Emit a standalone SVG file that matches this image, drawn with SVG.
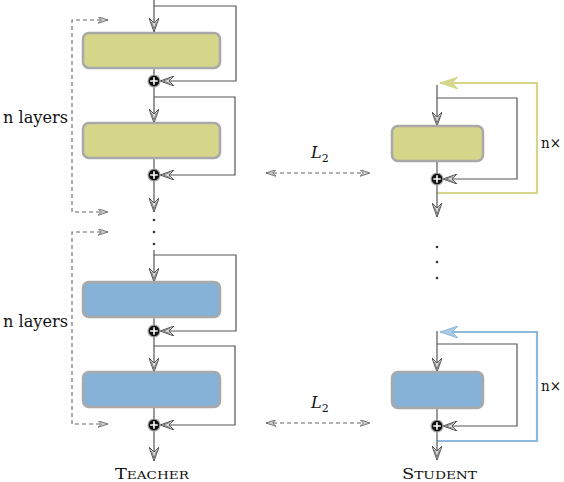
<svg xmlns="http://www.w3.org/2000/svg" width="564" height="482" viewBox="0 0 564 482">
<style>
.ln{fill:none;stroke:#555;stroke-width:1.2}
.dash{fill:none;stroke:#666;stroke-width:1.1;stroke-dasharray:4 3}
.by{fill:#d6d68a;stroke:#a9a9a9;stroke-width:2.5}
.bb{fill:#85b2d6;stroke:#a9a9a9;stroke-width:2.5}
text{font-family:'DejaVu Serif','Liberation Serif',serif;fill:#111}
.dot{fill:#333}
</style>
<defs>
<marker id="arr" viewBox="0 0 14 10" refX="14" refY="5" markerWidth="14" markerHeight="10" markerUnits="userSpaceOnUse" orient="auto-start-reverse">
<path d="M0,0 L14,5 L0,10 L5,5 Z" fill="#ddd" stroke="#555" stroke-width="1"/>
<path d="M4,2.5 L11,5 L4,7.5" fill="none" stroke="#666" stroke-width="0.8"/>
</marker>
<marker id="arrd" viewBox="0 0 12 8" refX="12" refY="4" markerWidth="10" markerHeight="7" markerUnits="userSpaceOnUse" orient="auto-start-reverse">
<path d="M0,0 L12,4 L0,8 L4,4 Z" fill="#ccc" stroke="#666" stroke-width="1"/>
</marker>
<marker id="arry" viewBox="0 0 18 12" refX="18" refY="6" markerWidth="18" markerHeight="12" markerUnits="userSpaceOnUse" orient="auto">
<path d="M0,0 L18,6 L0,12 L6,6 Z" fill="#d6d68a" stroke="#d6d68a" stroke-width="1"/>
</marker>
<marker id="arrb" viewBox="0 0 18 12" refX="18" refY="6" markerWidth="18" markerHeight="12" markerUnits="userSpaceOnUse" orient="auto">
<path d="M0,0 L18,6 L0,12 L6,6 Z" fill="#a9c9e4" stroke="#8fb9dc" stroke-width="1"/>
</marker>
<g id="plus">
<circle r="6" fill="#111" stroke="#aaa" stroke-width="1.2"/>
<path d="M-3.8,0 H3.8 M0,-3.8 V3.8" stroke="#fff" stroke-width="1.6"/>
</g>
</defs>

<g id="connectors">
<path class="ln" d="M154,0 V32" marker-end="url(#arr)"/>
<path class="ln" d="M154,6 H236 V81 H160" marker-end="url(#arr)"/>
<path class="ln" d="M154,68 V75"/>
<path class="ln" d="M154,87 V123" marker-end="url(#arr)"/>
<path class="ln" d="M154,97 H235 V175 H160" marker-end="url(#arr)"/>
<path class="ln" d="M154,158 V169"/>
<path class="ln" d="M154,181 V212" marker-end="url(#arr)"/>
<path class="ln" d="M154,250 V282" marker-end="url(#arr)"/>
<path class="ln" d="M154,255 H236 V331 H160" marker-end="url(#arr)"/>
<path class="ln" d="M154,317 V325"/>
<path class="ln" d="M154,337 V372" marker-end="url(#arr)"/>
<path class="ln" d="M154,346 H235 V425 H160" marker-end="url(#arr)"/>
<path class="ln" d="M154,407 V419"/>
<path class="ln" d="M154,431 V461" marker-end="url(#arr)"/>
<path class="dash" d="M108,20 H72 V212 H108" marker-start="url(#arrd)" marker-end="url(#arrd)"/>
<path class="dash" d="M108,232 H72 V424 H108" marker-start="url(#arrd)" marker-end="url(#arrd)"/>
<path class="dash" d="M266,173 H370" marker-start="url(#arrd)" marker-end="url(#arrd)"/>
<path class="dash" d="M266,423 H370" marker-start="url(#arrd)" marker-end="url(#arrd)"/>
<path fill="none" stroke="#d6d68a" stroke-width="2.2" d="M437,193 H537 V83 H440" marker-end="url(#arry)"/>
<path class="ln" d="M437,85 V126" marker-end="url(#arr)"/>
<path class="ln" d="M437,98 H517 V179 H443" marker-end="url(#arr)"/>
<path class="ln" d="M437,161 V173"/>
<path class="ln" d="M437,185 V217" marker-end="url(#arr)"/>
<path fill="none" stroke="#8fb9dc" stroke-width="2.2" d="M437,441 H537 V332 H440" marker-end="url(#arrb)"/>
<path class="ln" d="M437,331 V372" marker-end="url(#arr)"/>
<path class="ln" d="M437,344 H517 V426 H443" marker-end="url(#arr)"/>
<path class="ln" d="M437,408 V420"/>
<path class="ln" d="M437,432 V460" marker-end="url(#arr)"/>
</g>

<g id="teacher-layer1"><rect class="by" x="83" y="33" width="137" height="35" rx="6"/></g>
<g id="teacher-add1"><use href="#plus" x="154" y="81"/></g>
<g id="teacher-layer2"><rect class="by" x="83" y="123" width="137" height="35" rx="6"/></g>
<g id="teacher-add2"><use href="#plus" x="154" y="175"/></g>
<g id="teacher-dots"><circle class="dot" cx="154" cy="220" r="1.3"/><circle class="dot" cx="154" cy="232" r="1.3"/><circle class="dot" cx="154" cy="244" r="1.3"/></g>
<g id="teacher-layer3"><rect class="bb" x="83" y="282" width="137" height="35" rx="6"/></g>
<g id="teacher-add3"><use href="#plus" x="154" y="331"/></g>
<g id="teacher-layer4"><rect class="bb" x="83" y="372" width="137" height="35" rx="6"/></g>
<g id="teacher-add4"><use href="#plus" x="154" y="425"/></g>

<g id="student-layer1"><rect class="by" x="392" y="126" width="91" height="35" rx="6"/></g>
<g id="student-add1"><use href="#plus" x="437" y="179"/></g>
<g id="student-dots"><circle class="dot" cx="437" cy="247" r="1.3"/><circle class="dot" cx="437" cy="262" r="1.3"/><circle class="dot" cx="437" cy="278" r="1.3"/></g>
<g id="student-layer2"><rect class="bb" x="392" y="372" width="91" height="36" rx="6"/></g>
<g id="student-add2"><use href="#plus" x="437" y="426"/></g>

<g id="labels">
<text x="3" y="123" font-size="17" textLength="65" lengthAdjust="spacingAndGlyphs">n layers</text>
<text x="3" y="327" font-size="17" textLength="65" lengthAdjust="spacingAndGlyphs">n layers</text>
<text x="541" y="148" font-size="15" textLength="20" lengthAdjust="spacingAndGlyphs">n×</text>
<text x="541" y="391" font-size="15" textLength="20" lengthAdjust="spacingAndGlyphs">n×</text>
<text x="311" y="158" font-size="16" font-style="italic">L<tspan font-size="11" font-style="normal" dy="4">2</tspan></text>
<text x="311" y="408" font-size="16" font-style="italic">L<tspan font-size="11" font-style="normal" dy="4">2</tspan></text>
<text x="115" y="479" font-size="15" textLength="74" lengthAdjust="spacingAndGlyphs">T<tspan font-size="11.5">EACHER</tspan></text>
<text x="402" y="479" font-size="15" textLength="75" lengthAdjust="spacingAndGlyphs">S<tspan font-size="11.5">TUDENT</tspan></text>
</g>
</svg>
